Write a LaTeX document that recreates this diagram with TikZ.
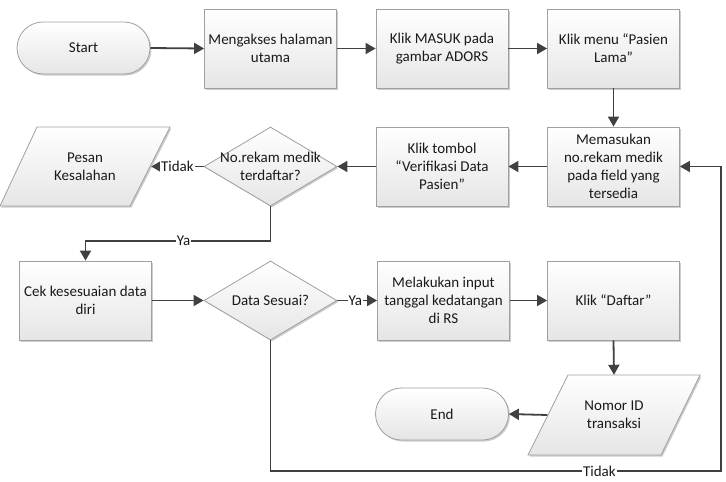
\documentclass[tikz,border=0pt]{standalone}
\usepackage{fontspec}
\setmainfont{Carlito}
\usetikzlibrary{arrows.meta,shapes.geometric,shadows,calc}
\definecolor{edgecol}{HTML}{404040}
\definecolor{bordercol}{HTML}{A0A0A0}
\definecolor{txtcol}{HTML}{1A1A1A}
\tikzset{
  boxlook/.style={draw=bordercol, line width=0.8pt, top color=white, bottom color=black!10,
    drop shadow={shadow xshift=1.5pt, shadow yshift=-1.5pt, opacity=0.2, fill=black}},
  proc/.style={boxlook, rectangle, minimum width=132pt, minimum height=79pt, inner sep=0pt,
    align=center, text=txtcol, font=\fontsize{15}{18}\selectfont},
  term/.style={boxlook, rectangle, rounded corners=26pt, minimum width=133pt, minimum height=52pt,
    inner sep=0pt, align=center, text=txtcol, font=\fontsize{15}{18}\selectfont},
  decis/.style={boxlook, diamond, aspect=1.68, minimum width=133pt, minimum height=79pt, inner sep=0pt},
  dtext/.style={align=center, text=txtcol, font=\fontsize{15}{18}\selectfont},
  paranode/.style={rectangle, minimum width=132pt, minimum height=79pt, inner sep=0pt,
    align=center, text=txtcol, font=\fontsize{15}{18}\selectfont},
  conn/.style={draw=edgecol, line width=1.8pt, -{Triangle[length=10pt,width=11pt]}},
  lab/.style={fill=white, inner sep=1pt, text=txtcol, font=\fontsize{15}{18}\selectfont},
}
\begin{document}
\begin{tikzpicture}[x=1pt,y=-1pt]
\useasboundingbox (0,0) rectangle (726,482);
% parallelogram backgrounds
\path[boxlook] (37,127) -- (170,127) -- (130,206) -- (0,206) -- cycle;
\path[boxlook] (568,375) -- (700,375) -- (661,455) -- (528,455) -- cycle;
% nodes
\node[term] (start) at (83.5,48) {Start};
\node[proc] (m1) at (270.5,48.5) {Mengakses halaman\\utama};
\node[proc] (m2) at (442,48.5) {Klik MASUK pada\\gambar ADORS};
\node[proc] (m3) at (613.5,48.5) {Klik menu “Pasien\\Lama”};
\node[proc] (m4) at (613.5,166.5) {Memasukan\\no.rekam medik\\pada field yang\\tersedia};
\node[proc] (m5) at (442,166.5) {Klik tombol\\“Verifikasi Data\\Pasien”};
\node[decis, label={[dtext]center:No.rekam medik\\terdaftar?}] (d1) at (270.5,166.5) {};
\node[paranode] (pesan) at (85,166.5) {Pesan\\Kesalahan};
\node[proc] (cek) at (85.5,300.5) {Cek kesesuaian data\\diri};
\node[decis, label={[dtext]center:Data Sesuai?}] (d2) at (270.5,300.5) {};
\node[proc] (m6) at (443.5,300.5) {Melakukan input\\tanggal kedatangan\\di RS};
\node[proc] (m7) at (613.5,300.5) {Klik “Daftar”};
\node[paranode, minimum width=133pt, minimum height=80pt] (nomor) at (614,415) {Nomor ID\\transaksi};
\node[term] (end) at (442,414) {End};
\coordinate (yaA) at (270.5,241);
\coordinate (loopA) at (270.5,471);
\coordinate (loopB) at (721,471);
% connectors
\draw[conn] (start.east) -- (m1.west);
\draw[conn] (m1.east) -- (m2.west);
\draw[conn] (m2.east) -- (m3.west);
\draw[conn] (m3.south) -- (m4.north);
\draw[conn] (m4.west) -- (m5.east);
\draw[conn] (m5.west) -- (d1.east);
\draw[conn] (d1.west) -- node[lab] {Tidak} (pesan.east);
\draw[conn] (d1.south) -- (yaA) -- node[lab, pos=0.47] {Ya} (yaA -| cek.north) -- (cek.north);
\draw[conn] (cek.east) -- (d2.west);
\draw[conn] (d2.east) -- node[lab, pos=0.45] {Ya} (m6.west);
\draw[conn] (m6.east) -- (m7.west);
\draw[conn] (m7.south) -- (nomor.north);
\draw[conn] (nomor.west) -- (end.east);
\draw[conn] (d2.south) -- (loopA) -- node[lab, pos=0.73] {Tidak} (loopB) -- (loopB |- m4.east) -- (m4.east);
\end{tikzpicture}
\end{document}
